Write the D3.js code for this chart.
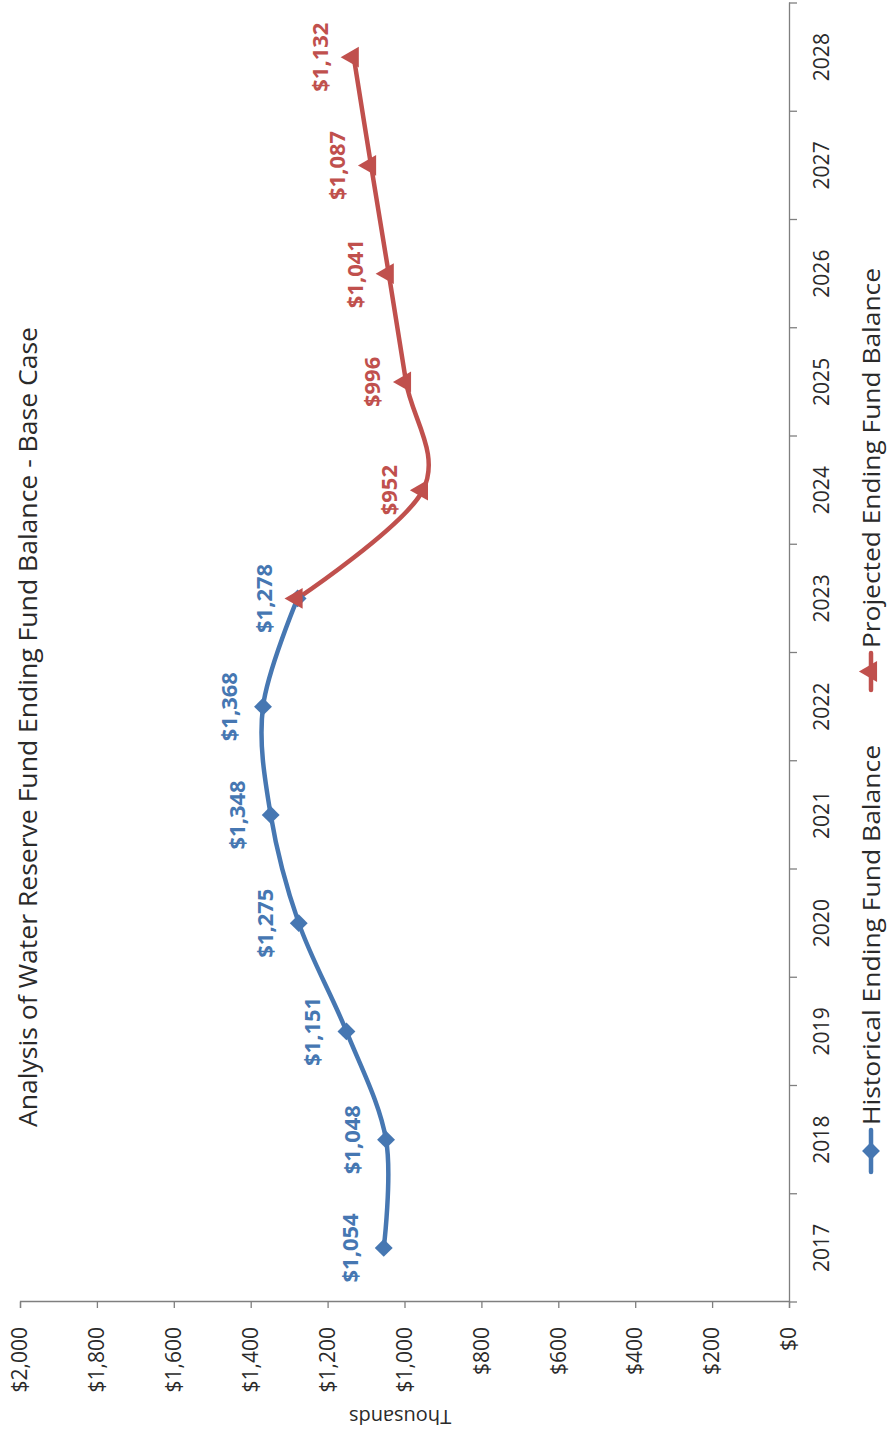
<!DOCTYPE html>
<html>
<head>
<meta charset="utf-8">
<script src="https://cdn.jsdelivr.net/npm/d3@7"></script>
<style>
  html, body { margin: 0; padding: 0; background: #ffffff; }
  svg { display: block; }
  text { font-family: "Open Sans", "Noto Sans", sans-serif; }
</style>
</head>
<body>
<div id="chart"></div>
<script>
// ---- data ----
const years = ["2017","2018","2019","2020","2021","2022","2023","2024","2025","2026","2027","2028"];
const historicalYears = ["2017","2018","2019","2020","2021","2022","2023"];
const historicalValues = [1054, 1048, 1151, 1275, 1348, 1368, 1278];
const projectedYears = ["2023","2024","2025","2026","2027","2028"];
const projectedValues = [1278, 952, 996, 1041, 1087, 1132];
const projectedLabelled = [false, true, true, true, true, true];
const valueTicks = [0, 200, 400, 600, 800, 1000, 1200, 1400, 1600, 1800, 2000];
const titleText = "Analysis of Water Reserve Fund Ending Fund Balance - Base Case";
const axisTitle = "Thousands";
const seriesNames = ["Historical Ending Fund Balance", "Projected Ending Fund Balance"];

// ---- layout (page is the chart rotated 90° counter-clockwise) ----
const PW = 890, PH = 1434;
const blue = "#4677b2", red = "#c0504d";
const axisColor = "#7f7f7f", inkColor = "#2a2a2a";

const svg = d3.select("#chart").append("svg")
  .attr("width", PW).attr("height", PH);
svg.append("rect").attr("width", PW).attr("height", PH).attr("fill", "#ffffff");

// chart frame: original width = PH, original height = PW
const g = svg.append("g").attr("transform", `translate(0,${PH}) rotate(-90)`);

const x = d3.scaleBand().domain(years).range([132, 1431]).padding(0);
const y = d3.scaleLinear().domain([0, 2000]).range([789, 20]);
const bw = x.bandwidth();
const cx = yr => x(yr) + bw / 2;
const money = d => "$" + d3.format(",")(d);

// value axis
const yAxis = g.append("g").attr("transform", "translate(132,0)")
  .call(d3.axisLeft(y).tickValues(valueTicks).tickSize(6).tickPadding(19).tickFormat(money));
yAxis.select(".domain").attr("stroke", axisColor).attr("stroke-width", 1.3);
yAxis.selectAll(".tick line").attr("stroke", axisColor).attr("stroke-width", 1.3);
yAxis.selectAll(".tick text").attr("fill", inkColor).style("font-size", "21px")
  .style("font-family", "'Open Sans', sans-serif");

// category axis (labels centred in bands, ticks between categories)
const xAxis = g.append("g").attr("transform", "translate(0,789)")
  .call(d3.axisBottom(x).tickSize(0).tickPadding(25));
xAxis.select(".domain").attr("stroke", axisColor).attr("stroke-width", 1.3);
xAxis.selectAll(".tick text").attr("fill", inkColor).style("font-size", "21px")
  .style("font-family", "'Open Sans', sans-serif");
const boundaries = years.map(yr => x(yr)).concat([x(years[years.length - 1]) + bw]);
g.append("g").selectAll("line").data(boundaries).join("line")
  .attr("x1", d => d).attr("x2", d => d)
  .attr("y1", 789).attr("y2", 797)
  .attr("stroke", axisColor).attr("stroke-width", 1.3);

// axis title
g.append("text")
  .attr("transform", "translate(17,400) rotate(-90)")
  .attr("text-anchor", "middle").attr("dy", "0.35em")
  .attr("fill", inkColor).style("font-size", "20px")
  .text(axisTitle);

// chart title
g.append("text")
  .attr("x", 707).attr("y", 37)
  .attr("text-anchor", "middle")
  .attr("fill", inkColor).style("font-size", "26px")
  .attr("textLength", 800).attr("lengthAdjust", "spacingAndGlyphs")
  .text(titleText);

// series
const hist = historicalYears.map((yr, i) => ({ year: yr, value: historicalValues[i], label: true }));
const proj = projectedYears.map((yr, i) => ({ year: yr, value: projectedValues[i], label: projectedLabelled[i] }));

const line = d3.line().x(d => cx(d.year)).y(d => y(d.value)).curve(d3.curveCardinal.tension(0));

g.append("path").datum(hist).attr("d", line)
  .attr("fill", "none").attr("stroke", blue).attr("stroke-width", 4.5)
  .attr("stroke-linecap", "round").attr("stroke-linejoin", "round");
g.append("path").datum(proj).attr("d", line)
  .attr("fill", "none").attr("stroke", red).attr("stroke-width", 4.5)
  .attr("stroke-linecap", "round").attr("stroke-linejoin", "round");

const diamond = d3.symbol(d3.symbolSquare, 160);
const triangle = d3.symbol(d3.symbolTriangle, 190);

g.append("g").selectAll("path").data(hist).join("path")
  .attr("d", diamond)
  .attr("transform", d => `translate(${cx(d.year)},${y(d.value)}) rotate(45)`)
  .attr("fill", blue);
g.append("g").selectAll("path").data(proj).join("path")
  .attr("d", triangle)
  .attr("transform", d => `translate(${cx(d.year)},${y(d.value) - 1})`)
  .attr("fill", red);

// data labels
g.append("g").selectAll("text").data(hist.filter(d => d.label)).join("text")
  .attr("x", d => cx(d.year)).attr("y", d => y(d.value) - 26)
  .attr("text-anchor", "middle").attr("fill", blue)
  .style("font-size", "22px").style("font-weight", "700")
  .text(d => money(d.value));
g.append("g").selectAll("text").data(proj.filter(d => d.label)).join("text")
  .attr("x", d => cx(d.year)).attr("y", d => y(d.value) - 26)
  .attr("text-anchor", "middle").attr("fill", red)
  .style("font-size", "22px").style("font-weight", "700")
  .text(d => money(d.value));

// legend
const legendY = 871;
const legendItems = [
  { name: seriesNames[0], color: blue, sym: diamond, rot: 45, x0: 262, x1: 304, tx: 309 },
  { name: seriesNames[1], color: red, sym: triangle, rot: 0, x0: 744, x1: 781, tx: 786 }
];
const lg = g.append("g").selectAll("g").data(legendItems).join("g");
lg.append("line")
  .attr("x1", d => d.x0).attr("x2", d => d.x1)
  .attr("y1", legendY).attr("y2", legendY)
  .attr("stroke", d => d.color).attr("stroke-width", 4.5).attr("stroke-linecap", "round");
lg.append("path")
  .attr("d", d => d.sym())
  .attr("transform", d => `translate(${(d.x0 + d.x1) / 2},${legendY}) rotate(${d.rot})`)
  .attr("fill", d => d.color);
lg.append("text")
  .attr("x", d => d.tx).attr("y", legendY).attr("dy", "0.36em")
  .attr("fill", inkColor).style("font-size", "24px")
  .attr("textLength", 380).attr("lengthAdjust", "spacingAndGlyphs")
  .text(d => d.name);
</script>
</body>
</html>
